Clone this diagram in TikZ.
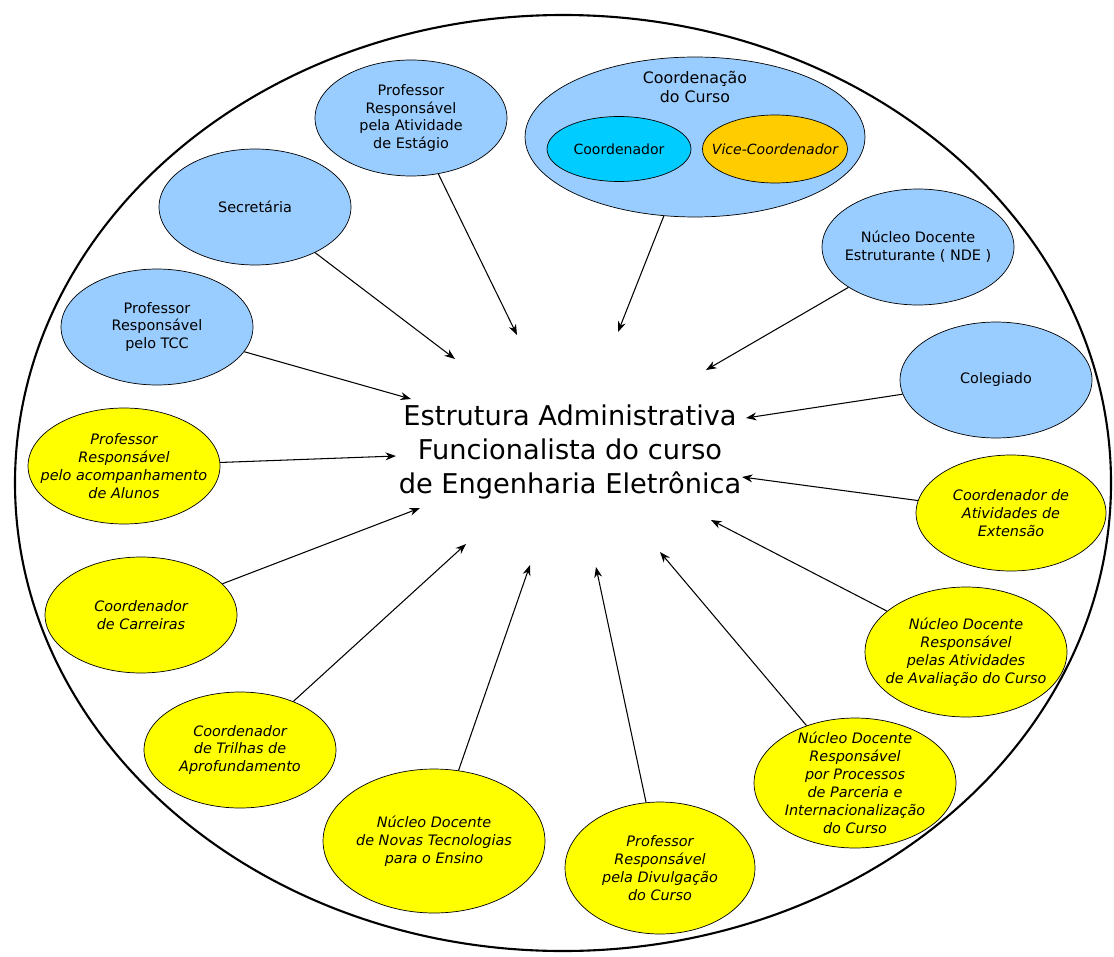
\documentclass[tikz,border=0pt]{standalone}
\usepackage{fontspec}
\setmainfont{DejaVu Sans}
\usepackage{tikz}
\usepackage{xcolor}
\usetikzlibrary{shapes.geometric,arrows.meta}
\definecolor{lightblue}{HTML}{99CCFF}
\definecolor{skyblue}{HTML}{00CCFF}
\definecolor{amber}{HTML}{FFCC00}
\definecolor{lemon}{HTML}{FFFF00}
\tikzstyle{blueball} = [ellipse, draw=black, fill=lightblue, minimum width=3.84cm, minimum height=2.32cm,
align=center, inner xsep=-12pt, inner ysep=-8pt, font=\fontsize{8.2}{10.2}\selectfont]
\tikzstyle{yellowball} = [blueball, fill=lemon, font=\fontsize{8.2}{10.2}\selectfont\itshape]
\tikzstyle{arrow} = [line width=0.6pt, -{Stealth[length=6pt,width=4.5pt]}]

\begin{document}
\begin{tikzpicture}[x=0.02cm, y=-0.02cm]
            \useasboundingbox (0,0) rectangle (1114,956);
            % Outer ellipse
            \draw[line width=1.2pt] (563,483) ellipse (548 and 468);

            % Draw Title
            \node(title) [align=center, font=\fontsize{15.5}{19.3}\selectfont] at (570,452)
                {Estrutura Administrativa\\Funcionalista do curso\\de Engenharia Eletrônica};

            % Draw Blue Balls
            \node(estagio) [blueball] at (411,118) {Professor\\Responsável\\pela Atividade\\de Estágio};
            \node(secretaria) [blueball] at (255,207) {Secretária};
            \node(tcc) [blueball] at (157,327) {Professor\\Responsável\\pelo TCC};
            \node(curso) [blueball, minimum width=6.8cm, minimum height=3.2cm] at (695,137) {};
            \node(cursotxt) [align=center, font=\fontsize{9}{11.2}\selectfont] at (695,87) {Coordenação\\do Curso};
            \node(coordenador) [blueball, fill=skyblue, minimum width=2.88cm, minimum height=1.3cm,
                font=\fontsize{8}{10}\selectfont] at (619,149) {Coordenador};
            \node(vice) [blueball, fill=amber, minimum width=2.9cm, minimum height=1.36cm,
                font=\fontsize{8}{10}\selectfont\itshape, right of=coordenador, xshift=2.12cm] {Vice-Coordenador};
            \node(nde) [blueball] at (918,247) {Núcleo Docente\\Estruturante ( NDE )};
            \node(colegiado) [blueball] at (996,380) {Colegiado};

            % Draw Yellow Balls
            \node(acomp) [yellowball] at (124,466) {Professor\\Responsável\\pelo acompanhamento\\de Alunos};
            \node(carreiras) [yellowball] at (141,615) {Coordenador\\de Carreiras};
            \node(trilhas) [yellowball] at (240,750) {Coordenador\\de Trilhas de\\Aprofundamento};
            \node(novas) [yellowball, minimum width=4.44cm, minimum height=2.88cm] at (434,841)
                {Núcleo Docente\\de Novas Tecnologias\\para o Ensino};
            \node(divulgacao) [yellowball, minimum width=3.8cm, minimum height=2.64cm] at (660,868)
                {Professor\\Responsável\\pela Divulgação\\do Curso};
            \node(parceria) [yellowball, minimum width=4.04cm, minimum height=2.6cm] at (855,783)
                {Núcleo Docente\\Responsável\\por Processos\\de Parceria e\\Internacionalização\\do Curso};
            \node(avaliacao) [yellowball, minimum width=4.04cm, minimum height=2.6cm] at (966,652)
                {Núcleo Docente\\Responsável\\pelas Atividades\\de Avaliação do Curso};
            \node(extensao) [yellowball, minimum width=3.8cm] at (1011,513)
                {Coordenador de\\Atividades de\\Extensão};

            % Arrow tips round the title
            \coordinate (tEstagio) at (517,335);
            \coordinate (tSecretaria) at (455,359);
            \coordinate (tTcc) at (411,399);
            \coordinate (tCurso) at (618,332);
            \coordinate (tNde) at (706,370);
            \coordinate (tColegiado) at (746,418);
            \coordinate (tAcomp) at (396,456);
            \coordinate (tCarreiras) at (420,508);
            \coordinate (tTrilhas) at (466,544);
            \coordinate (tNovas) at (530,565);
            \coordinate (tDivulgacao) at (596,567);
            \coordinate (tParceria) at (660,552);
            \coordinate (tAvaliacao) at (711,520);
            \coordinate (tExtensao) at (742,477);

            % Draw Arrows
            \draw[arrow] (estagio) -- (tEstagio);
            \draw[arrow] (secretaria) -- (tSecretaria);
            \draw[arrow] (tcc) -- (tTcc);
            \draw[arrow] (curso) -- (tCurso);
            \draw[arrow] (nde) -- (tNde);
            \draw[arrow] (colegiado) -- (tColegiado);
            \draw[arrow] (acomp) -- (tAcomp);
            \draw[arrow] (carreiras) -- (tCarreiras);
            \draw[arrow] (trilhas) -- (tTrilhas);
            \draw[arrow] (novas) -- (tNovas);
            \draw[arrow] (divulgacao) -- (tDivulgacao);
            \draw[arrow] (parceria) -- (tParceria);
            \draw[arrow] (avaliacao) -- (tAvaliacao);
            \draw[arrow] (extensao) -- (tExtensao);
        \end{tikzpicture}
\end{document}
